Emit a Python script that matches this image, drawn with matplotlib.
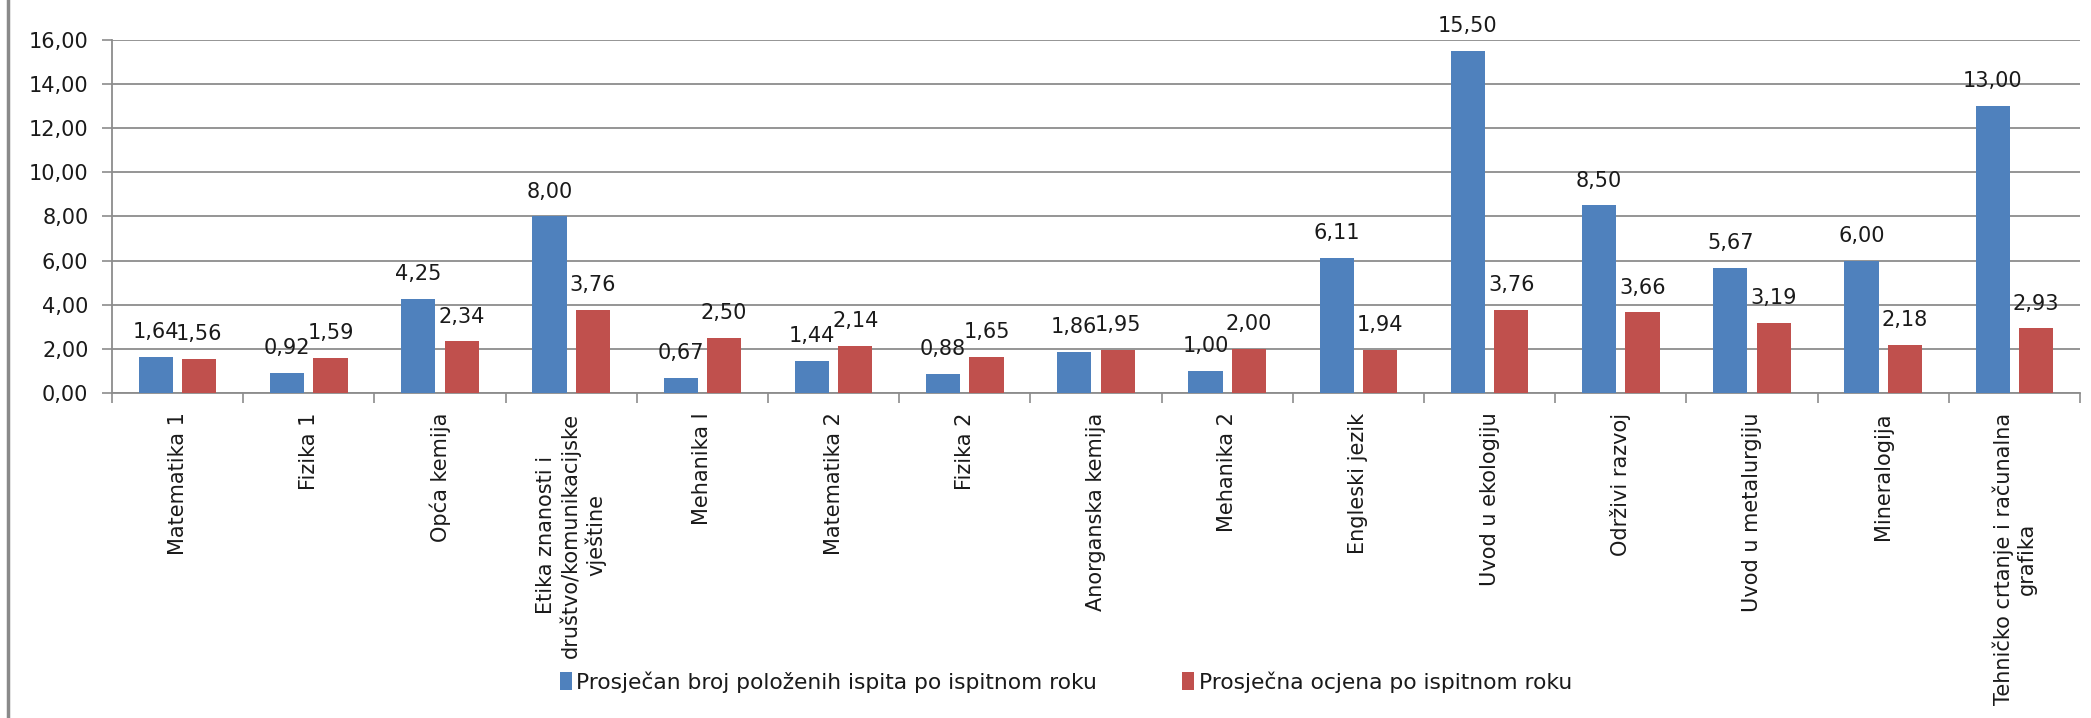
import matplotlib
matplotlib.use('Agg')
import matplotlib.pyplot as plt
from matplotlib.lines import Line2D
import numpy as np

# data
predmeti = ['Matematika 1', 'Fizika 1', 'Opća kemija',
            'Etika znanosti i\ndruštvo/komunikacijske\nvještine',
            'Mehanika I', 'Matematika 2', 'Fizika 2', 'Anorganska kemija',
            'Mehanika 2', 'Engleski jezik', 'Uvod u ekologiju', 'Održivi razvoj',
            'Uvod u metalurgiju', 'Mineralogija',
            'Tehničko crtanje i računalna\ngrafika']
polozeni = [1.64, 0.92, 4.25, 8.00, 0.67, 1.44, 0.88, 1.86, 1.00, 6.11,
            15.50, 8.50, 5.67, 6.00, 13.00]
ocjena = [1.56, 1.59, 2.34, 3.76, 2.50, 2.14, 1.65, 1.95, 2.00, 1.94,
          3.76, 3.66, 3.19, 2.18, 2.93]
serije = ['Prosječan broj položenih ispita po ispitnom roku',
          'Prosječna ocjena po ispitnom roku']
yticks = [0, 2, 4, 6, 8, 10, 12, 14, 16]

blue = '#4F81BD'
red = '#C0504D'
grey = '#8C8C8C'
txt = '#1a1a1a'

fig = plt.figure(figsize=(20.91, 7.18), dpi=100)
ax = fig.add_axes([112/2091, 1-393/718, (2080-112)/2091, (393-40)/718])

x = np.arange(len(predmeti))
w = 0.26
off = 0.165
b1 = ax.bar(x - off, polozeni, w, color=blue, label=serije[0], zorder=3)
b2 = ax.bar(x + off, ocjena, w, color=red, label=serije[1], zorder=3)

def fmt(v):
    return f'{v:.2f}'.replace('.', ',')

for bars, vals in ((b1, polozeni), (b2, ocjena)):
    for r, v in zip(bars, vals):
        ax.annotate(fmt(v), (r.get_x() + r.get_width()/2, v),
                    xytext=(0, 13.5), textcoords='offset points',
                    ha='center', va='baseline', fontsize=15, color=txt, zorder=4)

ax.set_ylim(0, 16)
ax.set_xlim(-0.5, len(predmeti) - 0.5)
ax.set_yticks(yticks)
ax.set_yticklabels([fmt(t) for t in yticks])
ax.grid(axis='y', color=grey, linewidth=1.3, zorder=0)

# category boundaries as ticks
ax.set_xticks(np.arange(len(predmeti) + 1) - 0.5, minor=False)
ax.set_xticklabels([])
ax.set_xticks(x, minor=True)
ax.set_xticklabels(predmeti, minor=True, rotation=90, fontsize=15,
                   color=txt, ha='center', va='top', multialignment='center')
ax.tick_params(axis='x', which='minor', length=0, pad=14)
ax.tick_params(axis='x', which='major', length=7, color=grey, width=1.2)
ax.tick_params(axis='y', length=7, color=grey, width=1.2, labelsize=15,
               labelcolor=txt, pad=10)

for s in ('top', 'right'):
    ax.spines[s].set_visible(False)
for s in ('left', 'bottom'):
    ax.spines[s].set_color(grey)
    ax.spines[s].set_linewidth(1.3)

fig.legend(loc='center', bbox_to_anchor=(1066/2091, 1-682/718), ncol=2,
           frameon=False, fontsize=15.7, handlelength=0.55, handleheight=0.9,
           handletextpad=0.2, columnspacing=3.9, labelcolor=txt)

# chart area border on the left
fig.add_artist(Line2D([8/2091, 8/2091], [0, 1], color='#8a8a8a', linewidth=2.5,
                      transform=fig.transFigure))

fig.savefig('out.png', dpi=100, facecolor='white')
